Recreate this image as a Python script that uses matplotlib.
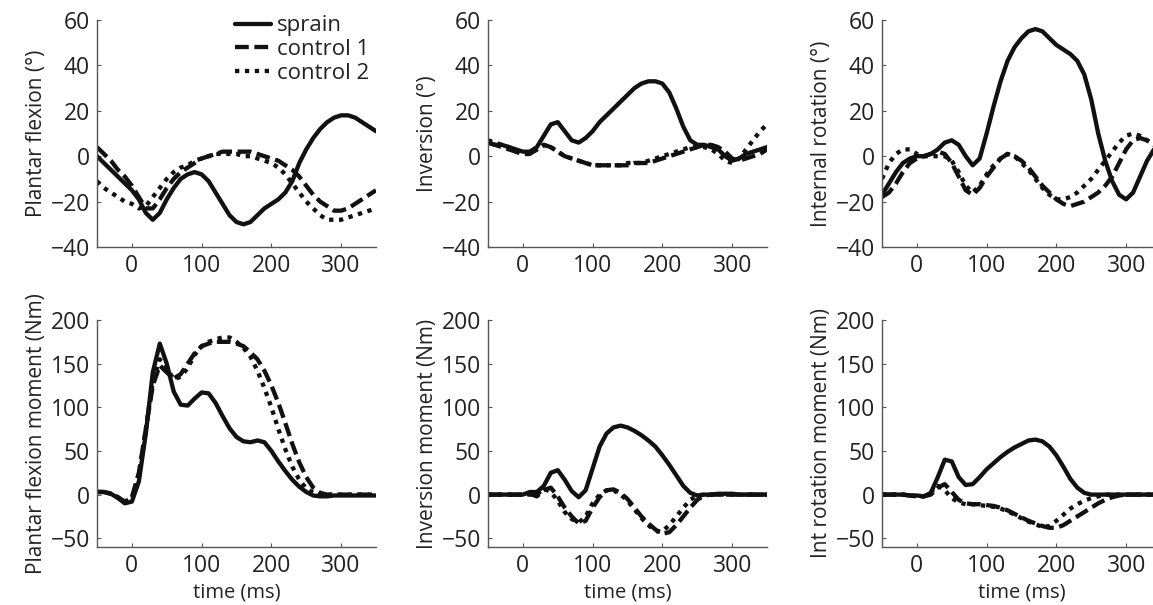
import numpy as np
import matplotlib
matplotlib.use("Agg")
import matplotlib.pyplot as plt

plt.rcParams['font.family'] = ['Open Sans', 'DejaVu Sans']

time_ms = list(range(-50, 351, 10))

# Plantar flexion (deg)
pf_sprain = [0, -3, -6, -9, -12, -15, -19, -25, -28, -25, -19, -14, -10, -8, -7, -8, -11, -16, -21, -26,
             -29, -30, -29, -26, -23, -21, -19, -16, -11, -3, 3, 8, 12, 15, 17, 18, 18, 17, 15, 13, 11]
pf_ctrl1 = [4, 1, -2, -6, -9, -13, -18, -23, -23, -19, -14, -10, -7, -5, -3, -1, 0, 1, 2, 2,
            2, 2, 2, 1, 0, -1, -2, -4, -6, -9, -13, -17, -20, -22, -24, -24, -23, -21, -19, -17, -15]
pf_ctrl2 = [-11, -14, -16, -18, -20, -21, -23, -22, -18, -14, -10, -7, -5, -4, -2, -1, 0, 1, 1, 1,
            1, 0, 0, -1, -2, -3, -5, -8, -12, -16, -20, -23, -26, -28, -28, -28, -27, -26, -25, -24, -23]

# Inversion (deg)
inv_sprain = [6, 5, 5, 4, 3, 2, 2, 4, 9, 14, 15, 11, 7, 6, 8, 11, 15, 18, 21, 24,
              27, 30, 32, 33, 33, 32, 28, 21, 13, 7, 5, 5, 4, 3, 0, -2, -1, 1, 2, 3, 4]
inv_ctrl1 = [6, 5, 4, 3, 2, 1, 1, 3, 5, 4, 2, 0, -1, -2, -3, -4, -4, -4, -4, -4,
             -4, -3, -3, -3, -2, -1, 0, 1, 2, 3, 4, 5, 5, 4, 2, -1, -2, -1, 0, 1, 3]
inv_ctrl2 = [7, 6, 5, 4, 2, 1, 1, 3, 5, 4, 2, 0, -1, -2, -3, -4, -4, -4, -4, -4,
             -3, -3, -3, -2, -1, 0, 1, 2, 3, 4, 4, 4, 3, 1, -2, -3, -1, 3, 7, 11, 14]

# Internal rotation (deg)
ir_sprain = [-17, -12, -7, -3, -1, 0, 0, 1, 3, 6, 7, 5, 0, -4, -1, 10, 22, 33, 42, 48,
             52, 55, 56, 55, 52, 49, 47, 45, 42, 36, 25, 10, -2, -11, -17, -19, -16, -9, -2, 3, 6]
ir_ctrl1 = [-18, -16, -12, -7, -3, -1, 0, 1, 2, 1, -3, -9, -15, -17, -14, -9, -5, -1, 1, 0,
            -2, -5, -9, -13, -16, -19, -21, -22, -21, -20, -18, -16, -13, -9, -3, 3, 7, 8, 7, 5, 3]
ir_ctrl2 = [-10, -3, 1, 3, 3, 1, 0, 0, 0, 0, -2, -7, -13, -16, -13, -8, -4, -1, 1, 0,
            -3, -6, -10, -14, -17, -19, -19, -18, -16, -13, -10, -6, -2, 2, 6, 9, 10, 9, 7, 5, 3]

# Plantar flexion moment (Nm)
pfm_sprain = [3, 3, 1, -4, -10, -8, 15, 70, 140, 173, 150, 118, 103, 102, 110, 117, 116, 105, 90, 76,
              66, 61, 60, 62, 60, 50, 38, 27, 17, 9, 3, -1, -2, -2, -1, -1, -1, -1, -1, -1, -1]
pfm_ctrl1 = [3, 3, 1, -3, -8, -3, 25, 75, 125, 148, 140, 133, 138, 150, 162, 170, 173, 175, 175, 175,
             173, 170, 163, 155, 142, 125, 105, 82, 58, 37, 20, 8, 2, 0, 0, 0, 0, 0, 0, 0, 0]
pfm_ctrl2 = [3, 3, 1, -3, -8, -5, 20, 75, 130, 155, 145, 132, 135, 145, 160, 170, 175, 178, 180, 180,
             175, 168, 158, 142, 122, 100, 75, 52, 32, 17, 7, 2, 0, 0, 0, 0, 0, 0, 0, 0, 0]

# Inversion moment (Nm)
invm_sprain = [0, 0, 0, 0, 0, 0, 3, 3, 10, 25, 28, 17, 4, -3, 5, 30, 55, 70, 77, 79,
               77, 73, 68, 62, 55, 45, 34, 22, 10, 2, -1, 0, 0, 1, 1, 1, 0, 0, 0, 0, 0]
invm_ctrl1 = [0, 0, 0, 0, 0, 0, 1, -2, 5, 8, -2, -15, -25, -33, -30, -15, -3, 5, 6, 2,
              -5, -15, -25, -33, -40, -45, -43, -35, -25, -15, -6, -1, 0, 0, 0, 0, 0, 0, 0, 0, 0]
invm_ctrl2 = [0, 0, 0, 0, 0, 0, 0, 0, 7, 3, -7, -20, -28, -32, -25, -10, 0, 5, 5, 0,
              -7, -17, -27, -35, -42, -42, -35, -25, -15, -6, -1, 0, 0, 0, 0, 0, 0, 0, 0, 0, 0]

# Int rotation moment (Nm)
irm_sprain = [0, 0, 0, 0, -1, -1, -2, 2, 20, 40, 38, 20, 11, 12, 20, 29, 36, 43, 49, 54,
              58, 62, 63, 61, 55, 45, 32, 18, 8, 2, 0, 0, 0, 0, 0, 0, 0, 0, 0, 0, 0]
irm_ctrl1 = [0, 0, 0, 0, -1, -2, -2, 0, 8, 12, 3, -6, -10, -11, -11, -12, -13, -15, -18, -22,
             -26, -30, -33, -36, -38, -38, -35, -30, -25, -20, -15, -10, -6, -3, -1, 0, 0, 0, 0, 0, 0]
irm_ctrl2 = [0, 0, 0, 0, -1, -2, -2, 3, 10, 5, -4, -9, -11, -11, -12, -13, -14, -16, -19, -23,
             -27, -31, -34, -37, -36, -30, -23, -16, -11, -7, -4, -2, 0, 0, 0, 0, 0, 0, 0, 0, 0]

series_labels = ["sprain", "control 1", "control 2"]
ylabels = ["Plantar flexion (°)", "Inversion (°)", "Internal rotation (°)",
           "Plantar flexion moment (Nm)", "Inversion moment (Nm)", "Int rotation moment (Nm)"]
xticks = [0, 100, 200, 300]
top_yticks = [-40, -20, 0, 20, 40, 60]
bot_yticks = [-50, 0, 50, 100, 150, 200]

panels = [
    (pf_sprain, pf_ctrl1, pf_ctrl2),
    (inv_sprain, inv_ctrl1, inv_ctrl2),
    (ir_sprain, ir_ctrl1, ir_ctrl2),
    (pfm_sprain, pfm_ctrl1, pfm_ctrl2),
    (invm_sprain, invm_ctrl1, invm_ctrl2),
    (irm_sprain, irm_ctrl1, irm_ctrl2),
]

W, H = 1153, 605
fig = plt.figure(figsize=(W / 100, H / 100), dpi=100)

lefts = [97, 488, 882]
width = 279
tops = [20, 320]
height = 227

styles = [
    dict(linestyle='-'),
    dict(linestyle=(0, (3.2, 1.3))),
    dict(linestyle=(0, (1.0, 1.3))),
]

ink = '#111111'
txt = '#222222'
for i, data in enumerate(panels):
    r, c = divmod(i, 3)
    ax = fig.add_axes([lefts[c] / W, 1 - (tops[r] + height) / H, width / W, height / H])
    for k, y in enumerate(data):
        ax.plot(time_ms, y, color=ink, lw=3.1, dash_capstyle='butt',
                solid_capstyle='round', solid_joinstyle='round',
                label=series_labels[k], **styles[k])
    ax.set_xlim(-50, 350)
    if r == 0:
        ax.set_ylim(-40, 60)
        ax.set_yticks(top_yticks)
    else:
        ax.set_ylim(-60, 200)
        ax.set_yticks(bot_yticks)
        ax.set_xlabel("time (ms)", fontsize=14.5, color=txt, labelpad=3)
    ax.set_xticks(xticks)
    ax.set_yticklabels([("−" + str(-v)) if v < 0 else str(v) for v in ax.get_yticks().astype(int)])
    for s in ['top', 'right']:
        ax.spines[s].set_visible(False)
    for s in ['left', 'bottom']:
        ax.spines[s].set_color('#555555')
        ax.spines[s].set_linewidth(1.0)
    ax.tick_params(direction='in', length=3, width=0.8, color='#555555',
                   labelsize=16.5, labelcolor=txt, pad=5)
    ax.set_ylabel(ylabels[i], fontsize=15, color=txt, labelpad=3)
    if i == 0:
        leg = ax.legend(loc='upper left', bbox_to_anchor=(0.495, 1.02), frameon=False,
                        fontsize=16, handlelength=1.6, handletextpad=0.3,
                        labelspacing=0.12, borderpad=0, borderaxespad=0)
        for t in leg.get_texts():
            t.set_color(txt)

fig.savefig("out.png", dpi=100, facecolor='white')
